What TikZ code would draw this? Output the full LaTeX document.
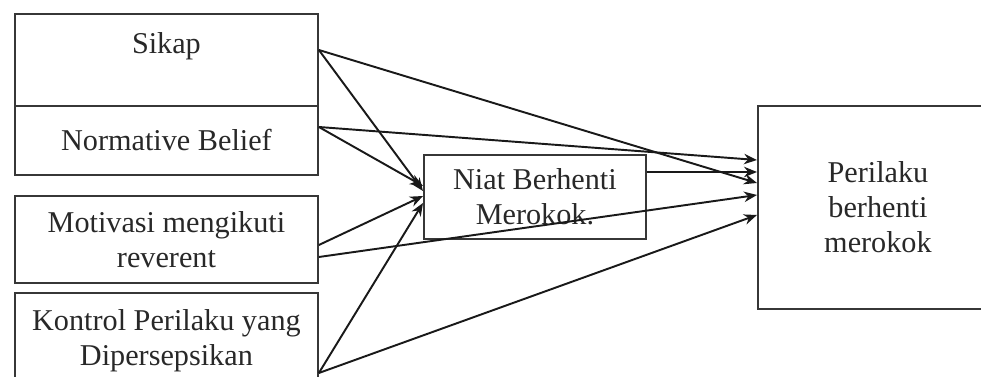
\documentclass[tikz,border=0pt]{standalone}
\usepackage{fontspec}
\setmainfont{Liberation Serif}
\usepackage{tikz}
\usetikzlibrary{arrows.meta,positioning,calc}
\definecolor{boxgrey}{RGB}{55,55,55}
\definecolor{textgrey}{RGB}{40,40,40}

\begin{document}
\begin{tikzpicture}[x=0.02cm,y=-0.02cm,
    font=\fontsize{17.2}{20}\selectfont,
    >={Stealth[length=2.6mm,width=2.1mm]},
    lbox/.style={draw=boxgrey,line width=1.1pt,inner sep=0pt,minimum width=6.06cm,
                 align=center,anchor=north west,text=textgrey},
    arr/.style={->,line width=1.1pt,black!90}]

  \clip (0,0) rectangle (981,377);

  % left column of factors
  \node[lbox,minimum height=1.84cm,inner ysep=0.1cm,text height=0.7cm,text depth=0.94cm]
        (sikap) at (14,13) {Sikap};
  \node[lbox,minimum height=1.38cm] (nb) at (14,105) {Normative Belief};
  \node[lbox,minimum height=1.74cm] (mot) at (14,195) {Motivasi mengikuti\\reverent};
  \node[lbox,minimum height=1.90cm] (kontrol) at (14,292) {Kontrol Perilaku yang\\Dipersepsikan};

  % intention and behaviour
  \node[lbox,minimum width=4.44cm,minimum height=1.68cm] (niat) at (423,154) {Niat Berhenti\\Merokok.};
  \node[lbox,minimum width=4.80cm,minimum height=4.06cm] (perilaku) at (757,105) {Perilaku\\berhenti\\merokok};

  % exit and entry points
  \coordinate (sikapout) at ($(sikap.north east)+(0,37)$);
  \coordinate (nbout) at ($(nb.north east)+(0,22)$);
  \coordinate (motouta) at ($(mot.north east)+(0,50)$);
  \coordinate (motoutb) at ($(mot.north east)+(0,62)$);
  \coordinate (kontrolout) at ($(kontrol.north east)+(0,81)$);

  \coordinate (niatinnb) at ($(niat.north west)+(0,32)$);
  \coordinate (niatinsikap) at ($(niat.north west)+(0,37)$);
  \coordinate (niatinmot) at ($(niat.north west)+(0,42)$);
  \coordinate (niatinkontrol) at ($(niat.north west)+(0,49)$);
  \coordinate (niatout) at ($(niat.north east)+(0,18)$);

  \coordinate (perinnb) at ($(perilaku.north west)+(0,55)$);
  \coordinate (perinniat) at ($(perilaku.north west)+(0,67)$);
  \coordinate (perinsikap) at ($(perilaku.north west)+(0,78)$);
  \coordinate (perinmot) at ($(perilaku.north west)+(0,90)$);
  \coordinate (perinkontrol) at ($(perilaku.north west)+(0,110)$);

  % paths to intention
  \draw[arr] (sikapout) -- (niatinsikap);
  \draw[arr] (nbout) -- (niatinnb);
  \draw[arr] (motouta) -- (niatinmot);
  \draw[arr] (kontrolout) -- (niatinkontrol);

  % paths to behaviour
  \draw[arr] (sikapout) -- (perinsikap);
  \draw[arr] (nbout) -- (perinnb);
  \draw[arr] (niatout) -- (perinniat);
  \draw[arr] (motoutb) -- (perinmot);
  \draw[arr] (kontrolout) -- (perinkontrol);

\end{tikzpicture}
\end{document}
